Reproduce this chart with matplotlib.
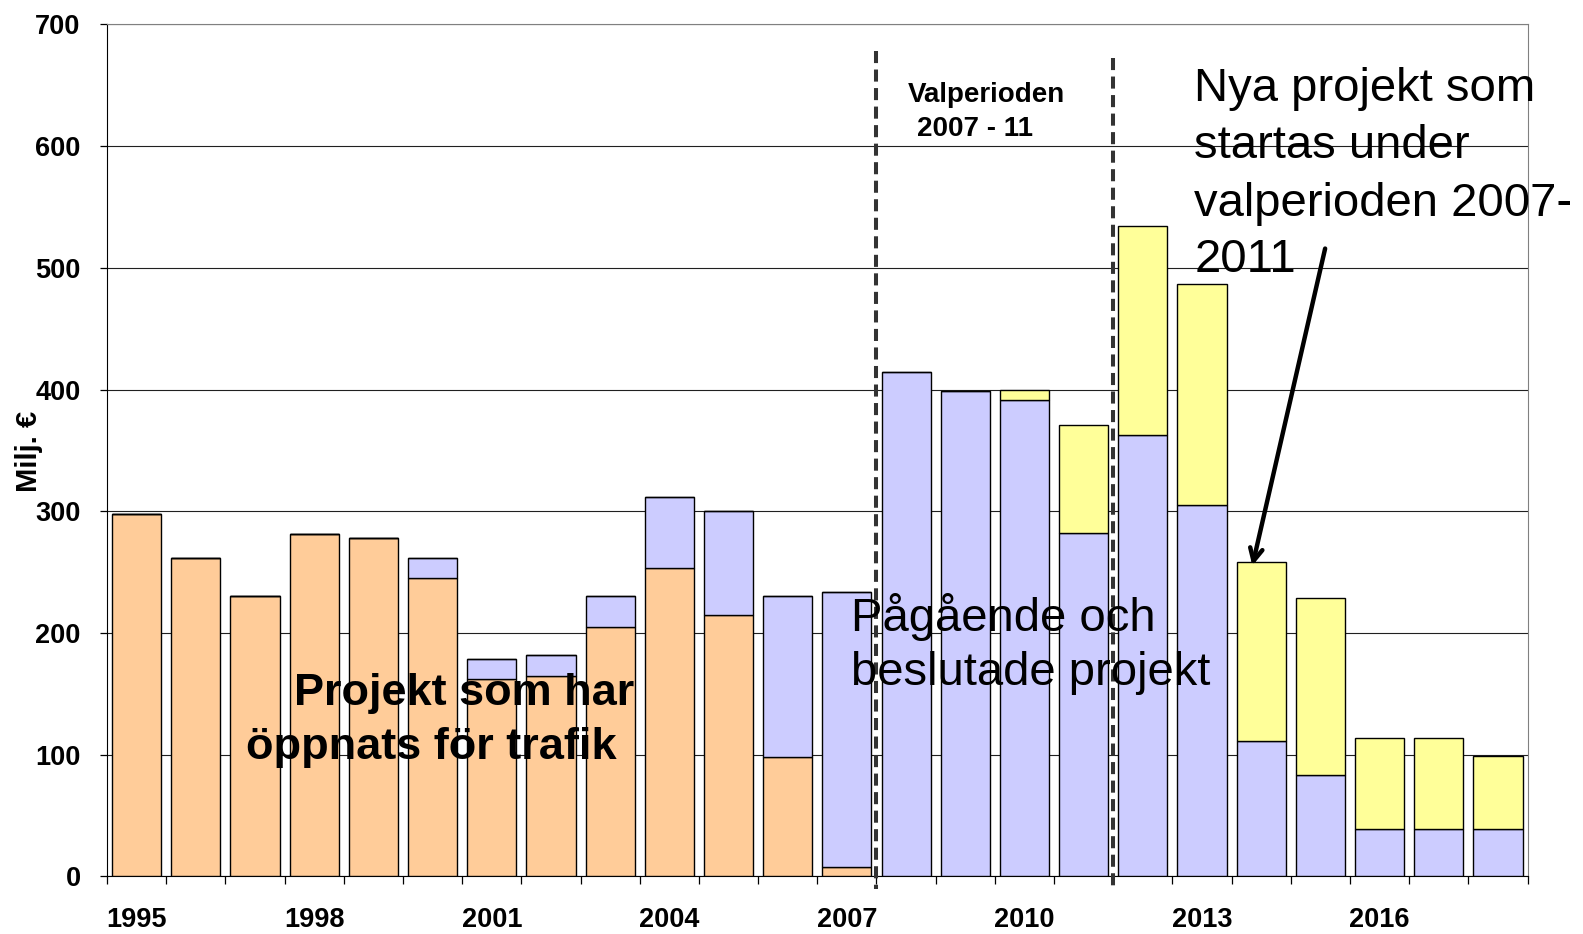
import numpy as np
import matplotlib
matplotlib.use("Agg")
import matplotlib.pyplot as plt

plt.rcParams["font.family"] = ["Liberation Sans", "DejaVu Sans"]

years = list(range(1995, 2019))
# Projekt som har öppnats för trafik
opened = [298, 262, 230, 281, 278, 245, 162, 165, 205, 253, 215, 98,
          8, 0, 0, 0, 0, 0, 0, 0, 0, 0, 0, 0]
# Pågående och beslutade projekt
ongoing = [0, 0, 0, 0, 0, 17, 17, 17, 25, 59, 85, 132,
           226, 414, 399, 391, 282, 363, 305, 111, 83, 39, 39, 39]
# Nya projekt som startas under valperioden 2007-2011
new = [0, 0, 0, 0, 0, 0, 0, 0, 0, 0, 0, 0,
       0, 0, 0, 9, 89, 171, 182, 147, 146, 75, 75, 60]
label_years = [1995, 1998, 2001, 2004, 2007, 2010, 2013, 2016]


def make_plot():
    fig = plt.figure(figsize=(15.83, 9.34), dpi=100)
    ax = fig.add_axes([0.0676, 0.0616, 0.8974, 0.9124])

    x = np.arange(len(years))
    opened_a = np.array(opened)
    ongoing_a = np.array(ongoing)
    w = 0.83
    kw = dict(width=w, edgecolor="black", linewidth=1.0, zorder=3)
    ax.bar(x, opened_a, color="#FFCC99", **kw)
    ax.bar(x, ongoing_a, bottom=opened_a, color="#CCCCFF", **kw)
    ax.bar(x, new, bottom=opened_a + ongoing_a, color="#FFFF99", **kw)

    ax.set_xlim(-0.5, len(years) - 0.5)
    ax.set_ylim(0, 700)
    ax.set_yticks(range(0, 701, 100))
    ax.yaxis.grid(True, color="#202020", linewidth=0.8, zorder=0)
    ax.set_axisbelow(True)

    # ticks between categories, labels every third year
    ax.set_xticks(np.arange(-0.5, len(years), 1.0))
    ax.set_xticklabels([])
    ax.tick_params(axis="x", which="major", length=6, width=0.9, direction="out")
    ax.set_xticks([years.index(y) for y in label_years], minor=True)
    ax.set_xticklabels([str(y) for y in label_years], minor=True,
                       fontsize=19.5, fontweight="bold")
    ax.tick_params(axis="x", which="minor", length=0, pad=22)
    ax.tick_params(axis="y", length=5, width=0.9, pad=14)
    for lab in ax.get_yticklabels():
        lab.set_fontsize(19.5)
        lab.set_fontweight("bold")

    for s in ["top", "right"]:
        ax.spines[s].set_color("#808080")
    for s in ["left", "bottom"]:
        ax.spines[s].set_color("black")

    fig.text(0.0185, 0.517, "Milj. €", rotation=90, fontsize=21,
             fontweight="bold", ha="center", va="center")

    # dashed period lines
    ax.plot([12.5, 12.5], [678, -10], linestyle=(0, (3.0, 1.6)), color="#333333",
            linewidth=2.9, clip_on=False, zorder=5)
    ax.plot([16.5, 16.5], [672, -12], linestyle=(0, (3.0, 1.6)), color="#333333",
            linewidth=2.9, clip_on=False, zorder=5)

    ax.text(13.03, 642, "Valperioden", fontsize=20, fontweight="bold",
            ha="left", va="center", zorder=6)
    ax.text(13.18, 614, "2007 - 11", fontsize=20, fontweight="bold",
            ha="left", va="center", zorder=6)

    ax.text(5.54, 150, "Projekt som har", fontsize=32.5, fontweight="bold",
            ha="center", va="center", zorder=6)
    ax.text(4.98, 106, "öppnats för trafik", fontsize=32.5, fontweight="bold",
            ha="center", va="center", zorder=6)

    ax.text(12.07, 213, "Pågående och", fontsize=34, ha="left", va="center", zorder=6)
    ax.text(12.07, 167, "beslutade projekt", fontsize=34, ha="left", va="center", zorder=6)

    for line, yy in zip(["Nya projekt som", "startas under",
                         "valperioden 2007-", "2011"], [647, 600, 552, 506]):
        ax.text(17.87, yy, line, fontsize=34, ha="left", va="center",
                zorder=6, clip_on=False)

    ax.annotate("", xy=(18.84, 253), xytext=(20.09, 518),
                arrowprops=dict(arrowstyle="->,head_length=0.9,head_width=0.45",
                                color="black", linewidth=3.2),
                zorder=7)
    return fig


def main():
    fig = make_plot()
    fig.savefig("out.png", dpi=100)


if __name__ == "__main__":
    main()
